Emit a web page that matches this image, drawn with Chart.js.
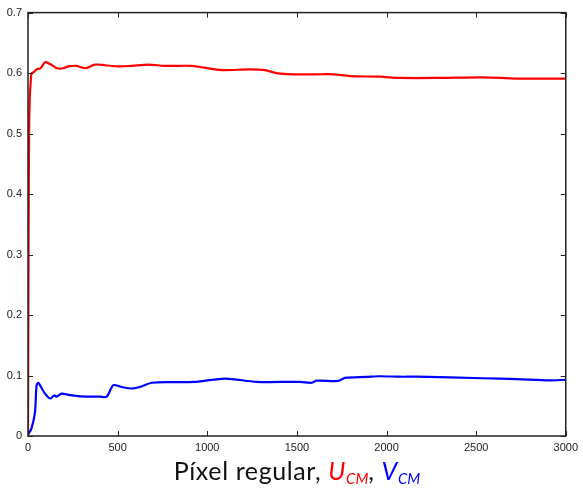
<!DOCTYPE html>
<html lang="es">
<head>
<meta charset="UTF-8">
<script src="https://cdn.jsdelivr.net/npm/chart.js"></script>
<title>Píxel regular</title>
<style>
    body { margin: 0; background: #fff; }
    .wrap { position: relative; width: 583px; height: 489px; }
    #titulo {
        position: absolute; left: 28px; width: 538px; top: 455px;
        text-align: center; font-family: "Lato", "Liberation Sans", sans-serif;
        font-size: 25px; letter-spacing: 0.6px; color: #111; white-space: nowrap;
    }
    #titulo .u { color: #ff0000; font-style: italic; }
    #titulo .v { color: #0000ff; font-style: italic; }
    #titulo sub { font-size: 15px; vertical-align: -4px; letter-spacing: 0; }
</style>
</head>
<body>
<div class="wrap">
    <canvas id="grafico" width="583" height="489"></canvas>
    <div id="titulo">Píxel regular, <span class="u">U<sub>CM</sub></span>, <span class="v">V<sub>CM</sub></span></div>
</div>

<script>
    // valores
    var xTicks = [0, 500, 1000, 1500, 2000, 2500, 3000];
    var yTicks = [0, 0.1, 0.2, 0.3, 0.4, 0.5, 0.6, 0.7];

    var xU = [0, 3, 6, 10, 15, 20, 30, 48, 70, 95, 123, 145, 160, 197, 225, 271, 318, 374, 430, 504, 578, 671, 764, 913, 959, 1025, 1089, 1238, 1322, 1387, 1480, 1600, 1703, 1796, 1963, 2075, 2300, 2538, 2727, 3000];
    var yU = [0, 0.30, 0.50, 0.56, 0.585, 0.600, 0.601, 0.606, 0.608, 0.618, 0.615, 0.611, 0.608, 0.608, 0.611, 0.612, 0.608, 0.614, 0.613, 0.611, 0.612, 0.614, 0.612, 0.612, 0.610, 0.607, 0.605, 0.606, 0.605, 0.600, 0.598, 0.598, 0.598, 0.595, 0.594, 0.592, 0.592, 0.593, 0.591, 0.591];

    var xV = [0, 20, 39, 48, 58, 67, 95, 123, 147, 160, 188, 225, 281, 355, 400, 439, 476, 522, 578, 634, 690, 820, 950, 1099, 1275, 1517, 1582, 1610, 1731, 1768, 1889, 1963, 2075, 2170, 2538, 2727, 2911, 3000];
    var yV = [0.002, 0.013, 0.040, 0.084, 0.088, 0.084, 0.070, 0.062, 0.067, 0.065, 0.070, 0.068, 0.066, 0.065, 0.065, 0.065, 0.084, 0.081, 0.0785, 0.082, 0.088, 0.089, 0.090, 0.095, 0.0895, 0.0895, 0.088, 0.0915, 0.091, 0.096, 0.0977, 0.0988, 0.098, 0.098, 0.0955, 0.094, 0.092, 0.093];

    function puntos(xs, ys) {
        return xs.map(function (x, i) { return { x: x, y: ys[i] }; });
    }

    // marco y ticks hacia adentro (estilo matlab)
    var marco = {
        id: 'marco',
        afterDraw: function (chart) {
            var ctx = chart.ctx, a = chart.chartArea;
            var sx = chart.scales.x, sy = chart.scales.y;
            ctx.save();
            ctx.strokeStyle = '#222';
            ctx.lineWidth = 1;
            ctx.beginPath();
            xTicks.forEach(function (t) {
                var px = Math.round(sx.getPixelForValue(t)) + 0.5;
                ctx.moveTo(px, a.bottom); ctx.lineTo(px, a.bottom - 5);
                ctx.moveTo(px, a.top); ctx.lineTo(px, a.top + 5);
            });
            yTicks.forEach(function (t) {
                var py = Math.round(sy.getPixelForValue(t)) + 0.5;
                ctx.moveTo(a.left, py); ctx.lineTo(a.left + 5, py);
                ctx.moveTo(a.right, py); ctx.lineTo(a.right - 5, py);
            });
            ctx.stroke();
            ctx.lineWidth = 1.5;
            ctx.strokeRect(a.left, a.top, a.right - a.left, a.bottom - a.top);
            ctx.restore();
        }
    };

    new Chart(document.getElementById('grafico'), {
        type: 'line',
        data: {
            datasets: [{
                label: 'U_CM',
                data: puntos(xU, yU),
                borderColor: '#ff0000',
                borderWidth: 2.2,
                pointRadius: 0,
                tension: 0.3
            }, {
                label: 'V_CM',
                data: puntos(xV, yV),
                borderColor: '#0000ff',
                borderWidth: 2.2,
                pointRadius: 0,
                tension: 0.3
            }]
        },
        options: {
            responsive: false,
            animation: false,
            layout: { padding: { top: 11, right: 17, left: 0, bottom: 0 } },
            plugins: { legend: { display: false }, tooltip: { enabled: false } },
            scales: {
                x: {
                    type: 'linear', min: 0, max: 3000,
                    afterBuildTicks: function (s) { s.ticks = xTicks.map(function (v) { return { value: v }; }); },
                    afterFit: function (s) { s.height = 53; },
                    grid: { display: false, drawTicks: false },
                    border: { display: false },
                    ticks: { color: '#222', padding: 5, maxRotation: 0, font: { family: 'Liberation Sans', size: 11 },
                        callback: function (v) { return String(v); } }
                },
                y: {
                    min: 0, max: 0.7,
                    afterBuildTicks: function (s) { s.ticks = yTicks.map(function (v) { return { value: v }; }); },
                    afterFit: function (s) { s.width = 28; },
                    grid: { display: false, drawTicks: false },
                    border: { display: false },
                    ticks: { color: '#222', padding: 6, font: { family: 'Liberation Sans', size: 11 },
                        callback: function (v) { return v === 0 ? '0' : v.toFixed(1); } }
                }
            }
        },
        plugins: [marco]
    });
</script>
</body>
</html>
